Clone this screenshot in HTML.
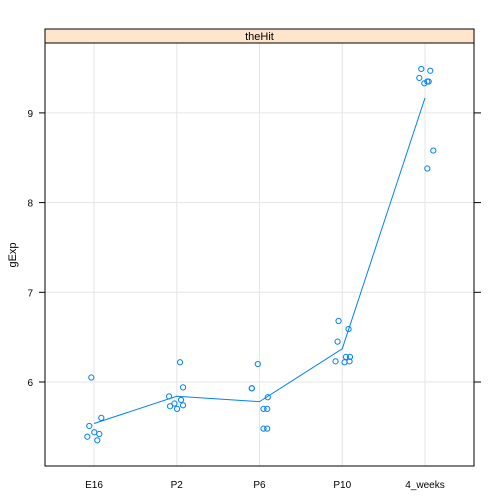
<!DOCTYPE html>
<html><head><meta charset="utf-8"><style>
body{margin:0;background:#fff}
svg{display:block;font-family:"Liberation Sans",sans-serif}
</style></head><body>
<svg id="c" width="504" height="504"></svg>
<script>
const categories=["E16","P2","P6","P10","4_weeks"];
const vE16=[6.05,5.51,5.44,5.42,5.39,5.35,5.60];
const vP2=[6.22,5.94,5.84,5.80,5.76,5.73,5.74,5.70];
const vP6=[6.20,5.93,5.93,5.83,5.70,5.70,5.48,5.48];
const vP10=[6.68,6.45,6.59,6.23,6.22,6.23,6.28,6.28];
const v4w=[9.49,9.47,9.39,9.33,9.35,9.35,8.58,8.38];
const jE16=[-2.7,-4.7,0.3,5.3,-6.7,3.3,7.3];
const jP2=[3.3,6.3,-7.7,4.3,-2.3,-6.7,6.3,0.3];
const jP6=[-1.7,-7.7,-7.7,8.3,4,7.7,4,7.7];
const jP10=[-3.7,-4.7,6.3,-6.7,2.3,7.3,3.7,7.7];
const j4w=[-3.7,5.3,-5.7,-0.7,2.3,3.7,8.3,2.3];
const yTicks=[6,7,8,9];
const values=[vE16,vP2,vP6,vP10,v4w];
const jitters=[jE16,jP2,jP6,jP10,j4w];

const L=45,R=474,T=29,SB=43,B=466;
const x=i=>94+i*82.75;
const y=v=>382-(v-6)*89.7;
const svg=document.getElementById('c');
const NS="http://www.w3.org/2000/svg";
function mk(t,a,p){const e=document.createElementNS(NS,t);for(const k in a)e.setAttribute(k,a[k]);(p||svg).appendChild(e);return e;}

const grid=mk('g',{});


categories.forEach((c,i)=>mk('line',{x1:x(i),x2:x(i),y1:SB,y2:B,stroke:'#e6e6e6'},grid));
yTicks.forEach(v=>mk('line',{x1:L,x2:R,y1:y(v),y2:y(v),stroke:'#e6e6e6'},grid));

const strip=mk('rect',{x:L,y:T,width:R-L,height:SB-T,fill:'#ffe5cc',stroke:'#000'});


const st=mk('text',{x:(L+R)/2,y:T+11,'text-anchor':'middle','font-size':'11'});
st.textContent='theHit';



const means=values.map(a=>a.reduce((s,v)=>s+v,0)/a.length);
const line=mk('polyline',{points:means.map((m,i)=>x(i)+','+y(m)).join(' '),fill:'none',stroke:'#0080ff','stroke-width':1});



values.forEach((arr,i)=>arr.forEach((v,k)=>{
  const c=mk('circle',{cx:x(i)+jitters[i][k],cy:y(v),r:2.6,fill:'none',stroke:'#0080ff','stroke-width':1});
  
  
}));

const frame=mk('rect',{x:L,y:SB,width:R-L,height:B-SB,fill:'none',stroke:'#000'});



yTicks.forEach(v=>{
  mk('line',{x1:L-6,x2:L,y1:y(v),y2:y(v),stroke:'#000'});
  mk('line',{x1:R,x2:R+7,y1:y(v),y2:y(v),stroke:'#000'});
  const t=mk('text',{x:L-12,y:y(v)+4,'text-anchor':'end','font-size':'10'});
  t.textContent=v;
  
  
});
categories.forEach((c,i)=>{
  const t=mk('text',{x:x(i),y:488,'text-anchor':'middle','font-size':'10'});
  t.textContent=c;
  
  
});
const yl=mk('text',{x:16,y:255,'text-anchor':'middle','font-size':'11',transform:'rotate(-90 16 255)'});
yl.textContent='gExp';


</script>
</body></html>
